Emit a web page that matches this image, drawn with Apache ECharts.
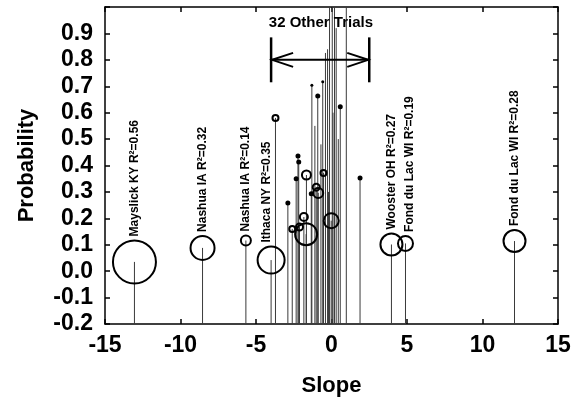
<!DOCTYPE html>
<html>
<head>
<meta charset="utf-8">
<script src="https://cdn.jsdelivr.net/npm/echarts@6/dist/echarts.min.js"></script>
<style>
  html, body { margin: 0; padding: 0; background: #fff; }
  #chart { width: 580px; height: 408px; }
</style>
</head>
<body>
<div id="chart"></div>
<script>
// labelled sites
const siteNames = ['Mayslick KY R²=0.56', 'Nashua IA R²=0.32', 'Nashua IA R²=0.14', 'Ithaca NY R²=0.35',
  'Wooster OH R²=0.27', 'Fond du Lac WI R²=0.19', 'Fond du Lac WI R²=0.28'];
const siteSlope = [-13.05, -8.54, -5.67, -4.0, 3.97, 4.9, 12.12];
const siteProb = [0.035, 0.088, 0.116, 0.042, 0.101, 0.105, 0.114];
const siteSize = [43, 24, 10, 27, 22, 15, 22];

// the 32 other trials (size 0 = stem only, filled 1 = solid dot)
const trialSlope = [-3.71, -2.89, -2.60, -2.34, -2.22, -2.17, -2.12, -1.83, -1.68, -1.66, -1.34, -1.30,
  -1.10, -1.01, -0.91, -0.88, -0.70, -0.58, -0.53, -0.40, -0.26, -0.20, -0.13, -0.02, 0.05, 0.10,
  0.20, 0.31, 0.45, 0.58, 0.98, 1.89];
const trialProb = [0.58, 0.258, 0.16, 0.35, 0.436, 0.413, 0.167, 0.205, 0.14, 0.364, 0.293, 0.704,
  0.55, 0.318, 0.663, 0.296, 0.48, 0.717, 0.372, 0.826, 0.84, 0.30, 1.0, 0.191, 1.0, 0.60,
  1.0, 0.92, 0.50, 0.622, 1.0, 0.353];
const trialSize = [6, 5, 6, 5, 5, 5, 7, 8, 22, 9, 5, 3,
  0, 7, 5, 10, 0, 3, 6, 0, 0, 0, 0, 15, 0, 0,
  0, 0, 0, 5, 0, 5];
const trialFilled = [0, 1, 0, 1, 1, 1, 0, 0, 0, 0, 1, 1,
  0, 0, 1, 0, 0, 1, 0, 0, 0, 0, 0, 0, 0, 0,
  0, 0, 0, 1, 0, 1];

// "32 Other Trials" bracket, in data units
const bracketSlope = [-4.0, 2.5];
const bracketProb = 0.8;
const bracketBar = [0.715, 0.885];
const bracketText = '32 Other Trials';
const bracketTextAt = [-0.7, 0.94];

const yMin = -0.2, yMax = 1.0;
const font = '"Liberation Sans", Arial, sans-serif';

// small sideways nudges (label is rotated, so second value moves it left/right)
const labelNudge = { 3: [0, -4], 5: [0, 4] };

const stems = [];
siteSlope.forEach((s, i) => stems.push([s, siteProb[i]]));
trialSlope.forEach((s, i) => stems.push([s, trialProb[i]]));

const openPts = [], dotPts = [];
trialSlope.forEach((s, i) => {
  if (!trialSize[i]) return;
  (trialFilled[i] ? dotPts : openPts).push([s, trialProb[i], trialSize[i]]);
});
const sitePts = siteNames.map((n, i) => {
  const d = { name: n, value: [siteSlope[i], siteProb[i], siteSize[i]] };
  if (labelNudge[i]) d.label = { offset: labelNudge[i] };
  return d;
});

const tickStyle = { inside: true, length: 5, lineStyle: { color: '#000', width: 1.5 } };
const lineStyle = { show: true, onZero: false, lineStyle: { color: '#000', width: 1.5 } };
const labelStyle = { color: '#000', fontSize: 23, fontWeight: 'bold', fontFamily: font };
const nameStyle = { color: '#000', fontSize: 22, fontWeight: 'bold', fontFamily: font };

const chart = echarts.init(document.getElementById('chart'));
chart.setOption({
  animation: false,
  grid: { left: 105, right: 22, top: 7, bottom: 84 },
  xAxis: [{
    type: 'value', min: -15, max: 15, interval: 5, position: 'bottom',
    axisLine: lineStyle, axisTick: tickStyle, splitLine: { show: false },
    axisLabel: Object.assign({ margin: 10 }, labelStyle),
    name: 'Slope', nameLocation: 'middle', nameGap: 51, nameTextStyle: nameStyle
  }, {
    type: 'value', min: -15, max: 15, interval: 5, position: 'top',
    axisLine: lineStyle, axisTick: tickStyle, splitLine: { show: false }, axisLabel: { show: false }
  }],
  yAxis: [{
    type: 'value', min: yMin, max: yMax, interval: 0.1, position: 'left',
    axisLine: lineStyle, axisTick: tickStyle, splitLine: { show: false },
    axisLabel: Object.assign({
      margin: 12,
      formatter: v => (v > 0.95 ? '' : v.toFixed(1))
    }, labelStyle),
    name: 'Probability', nameLocation: 'middle', nameGap: 67, nameTextStyle: nameStyle
  }, {
    type: 'value', min: yMin, max: yMax, interval: 0.1, position: 'right',
    axisLine: lineStyle, axisTick: tickStyle, splitLine: { show: false }, axisLabel: { show: false }
  }],
  series: [
    {
      type: 'custom', data: stems, silent: true,
      renderItem: (params, api) => {
        const a = api.coord([api.value(0), yMin]);
        const b = api.coord([api.value(0), api.value(1)]);
        return { type: 'line', shape: { x1: a[0], y1: a[1], x2: b[0], y2: b[1] },
          style: { stroke: '#3a3a3a', lineWidth: 1 } };
      }
    },
    {
      type: 'scatter', data: openPts, symbolSize: v => v[2],
      itemStyle: { color: 'rgba(0,0,0,0)', borderColor: '#000', borderWidth: 2, opacity: 1 }
    },
    {
      type: 'scatter', data: dotPts, symbolSize: v => v[2],
      itemStyle: { color: '#000', opacity: 1 }
    },
    {
      type: 'scatter', data: sitePts, symbolSize: v => v[2],
      itemStyle: { color: 'rgba(0,0,0,0)', borderColor: '#000', borderWidth: 2, opacity: 1 },
      label: {
        show: true, position: 'top', rotate: 90, align: 'left', verticalAlign: 'middle', distance: 3,
        formatter: p => p.name, color: '#000', fontSize: 12, fontWeight: 'bold', fontFamily: font
      }
    },
    {
      type: 'custom', data: [[bracketSlope[0], bracketProb]], silent: true,
      renderItem: (params, api) => {
        const L = api.coord([bracketSlope[0], bracketProb]);
        const R = api.coord([bracketSlope[1], bracketProb]);
        const lt = api.coord([bracketSlope[0], bracketBar[1]]);
        const lb = api.coord([bracketSlope[0], bracketBar[0]]);
        const rt = api.coord([bracketSlope[1], bracketBar[1]]);
        const rb = api.coord([bracketSlope[1], bracketBar[0]]);
        const t = api.coord(bracketTextAt);
        const st = { stroke: '#000', lineWidth: 2, fill: null };
        return {
          type: 'group',
          children: [
            { type: 'line', shape: { x1: L[0], y1: L[1], x2: R[0], y2: R[1] }, style: st },
            { type: 'line', shape: { x1: lt[0], y1: lt[1], x2: lb[0], y2: lb[1] }, style: { stroke: '#000', lineWidth: 2.5 } },
            { type: 'line', shape: { x1: rt[0], y1: rt[1], x2: rb[0], y2: rb[1] }, style: { stroke: '#000', lineWidth: 2.5 } },
            { type: 'polyline', shape: { points: [[L[0] + 22, L[1] - 7], [L[0] + 1, L[1]], [L[0] + 22, L[1] + 7]] }, style: st },
            { type: 'polyline', shape: { points: [[R[0] - 22, R[1] - 7], [R[0] - 1, R[1]], [R[0] - 22, R[1] + 7]] }, style: st },
            { type: 'text', x: t[0], y: t[1], style: { text: bracketText, fill: '#000', fontSize: 15,
              fontWeight: 'bold', fontFamily: font, align: 'center', verticalAlign: 'middle' } }
          ]
        };
      }
    }
  ]
});
</script>
</body>
</html>
